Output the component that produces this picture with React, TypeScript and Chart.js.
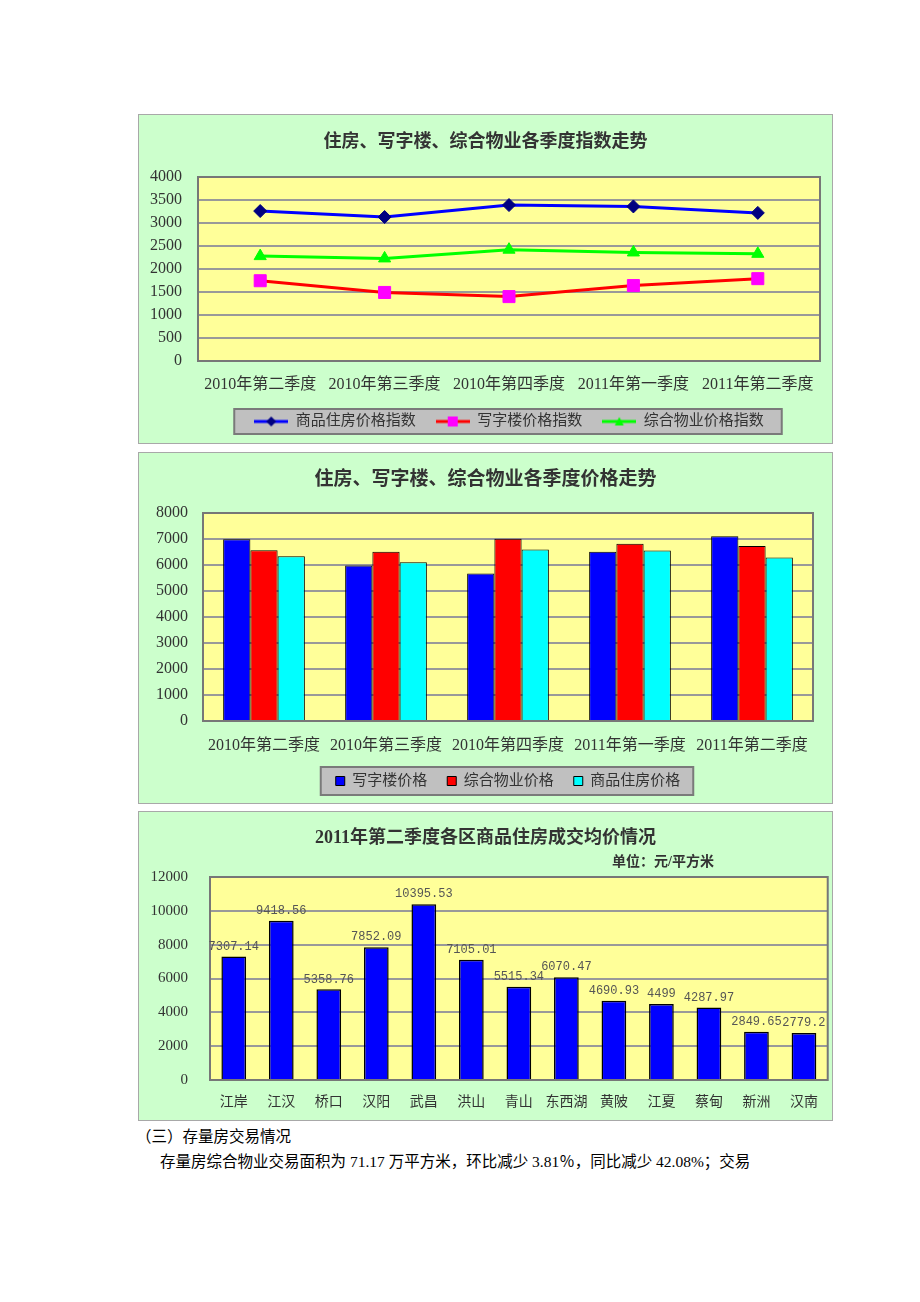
import React, { useEffect, useRef } from 'react';
import { Chart, registerables } from 'chart.js';

Chart.register(...registerables);

const FONT = "'Liberation Serif', 'Noto Sans CJK SC', serif";
const TEXT = '#333333';

// ---- Chart 1: index trend ----
const quarterLabels = ['2010年第二季度', '2010年第三季度', '2010年第四季度', '2011年第一季度', '2011年第二季度'];
const housingIndex = [3260, 3130, 3390, 3360, 3220];
const officeIndex = [1745, 1490, 1400, 1640, 1790];
const mixedIndex = [2280, 2230, 2420, 2360, 2330];
const indexTicks = [0, 500, 1000, 1500, 2000, 2500, 3000, 3500, 4000];

// ---- Chart 2: price trend ----
const officePrice = [6990, 5980, 5670, 6510, 7110];
const mixedPrice = [6570, 6510, 7010, 6820, 6730];
const housingPrice = [6340, 6110, 6600, 6560, 6290];
const priceTicks = [0, 1000, 2000, 3000, 4000, 5000, 6000, 7000, 8000];

// ---- Chart 3: district average prices ----
const districts = ['江岸', '江汉', '桥口', '汉阳', '武昌', '洪山', '青山', '东西湖', '黄陂', '江夏', '蔡甸', '新洲', '汉南'];
const districtPrices = [7307.14, 9418.56, 5358.76, 7852.09, 10395.53, 7105.01, 5515.34, 6070.47, 4690.93, 4499, 4287.97, 2849.65, 2779.2];
const districtTicks = [0, 2000, 4000, 6000, 8000, 10000, 12000];

const fixedTicks = (values: number[]) => (scale: any) => {
  scale.ticks = values.map((v) => ({ value: v }));
};
const plainNumber = (v: any) => String(v);

const plotFrame = {
  id: 'plotFrame',
  beforeDraw(chart: any, _args: any, opts: any) {
    const { ctx, chartArea: a } = chart;
    ctx.save();
    ctx.fillStyle = '#FFFF99';
    ctx.fillRect(a.left, a.top, a.right - a.left, a.bottom - a.top);
    const lg = chart.legend;
    if (opts && opts.legendBox && lg && lg.options.display && lg.legendHitBoxes && lg.legendHitBoxes.length) {
      const hb = lg.legendHitBoxes;
      const l = Math.min(...hb.map((h: any) => h.left)) - opts.legendBox.padL;
      const r = Math.max(...hb.map((h: any) => h.left + h.width)) + opts.legendBox.padR;
      const cy = hb[0].top + hb[0].height / 2;
      const h = opts.legendBox.height;
      ctx.fillStyle = '#C0C0C0';
      ctx.fillRect(l, cy - h / 2, r - l, h);
      ctx.strokeStyle = '#7a7a7a';
      ctx.lineWidth = 2;
      ctx.strokeRect(l, cy - h / 2, r - l, h);
    }
    ctx.restore();
  },
  beforeDatasetsDraw(chart: any) {
    const { ctx, chartArea: a } = chart;
    ctx.save();
    ctx.strokeStyle = '#777777';
    ctx.lineWidth = 2;
    ctx.strokeRect(a.left, a.top, a.right - a.left, a.bottom - a.top);
    ctx.restore();
  },
};

const valueLabels = {
  id: 'valueLabels',
  afterDatasetsDraw(chart: any) {
    const { ctx } = chart;
    const meta = chart.getDatasetMeta(0);
    const data = chart.data.datasets[0].data;
    ctx.save();
    ctx.font = "12px 'Liberation Mono', 'DejaVu Sans Mono', monospace";
    ctx.fillStyle = '#555555';
    ctx.textAlign = 'center';
    ctx.textBaseline = 'middle';
    meta.data.forEach((bar: any, i: number) => {
      ctx.fillText(String(data[i]), bar.x, bar.y - 10);
    });
    ctx.restore();
  },
};

const unitNote = {
  id: 'unitNote',
  afterDraw(chart: any, _args: any, opts: any) {
    const { ctx } = chart;
    ctx.save();
    ctx.font = `bold 14px ${FONT}`;
    ctx.fillStyle = TEXT;
    ctx.textAlign = 'center';
    ctx.textBaseline = 'middle';
    ctx.fillText(opts.text, opts.x, opts.y);
    ctx.restore();
  },
};

function makeIcon(kind: string, line: string, fill: string) {
  const c = document.createElement('canvas');
  c.width = 34;
  c.height = 14;
  const g = c.getContext('2d') as CanvasRenderingContext2D;
  g.strokeStyle = line;
  g.lineWidth = 3;
  g.beginPath();
  g.moveTo(0, 7);
  g.lineTo(34, 7);
  g.stroke();
  g.fillStyle = fill;
  g.beginPath();
  if (kind === 'diamond') {
    g.moveTo(17, 2);
    g.lineTo(22, 7);
    g.lineTo(17, 12);
    g.lineTo(12, 7);
  } else if (kind === 'square') {
    g.rect(12, 2, 10, 10);
  } else {
    g.moveTo(17, 2.5);
    g.lineTo(21.5, 11);
    g.lineTo(12.5, 11);
  }
  g.closePath();
  g.fill();
  return c;
}

const tickFont = (size: number) => ({ family: FONT, size });

function rightPad(width: number) {
  return {
    type: 'linear',
    axis: 'y',
    position: 'right',
    display: true,
    grid: { display: false, drawTicks: false },
    border: { display: false },
    ticks: { display: false },
    afterFit: (s: any) => {
      s.width = width;
    },
  };
}

function IndexChart() {
  const ref = useRef<HTMLCanvasElement>(null);
  useEffect(() => {
    const icons = [
      makeIcon('diamond', '#0000FF', '#000080'),
      makeIcon('square', '#FF0000', '#FF00FF'),
      makeIcon('triangle', '#00FF00', '#00FF00'),
    ];
    const chart = new Chart(ref.current as HTMLCanvasElement, {
      type: 'line',
      data: {
        labels: quarterLabels,
        datasets: [
          {
            label: '商品住房价格指数',
            data: housingIndex,
            borderColor: '#0000FF',
            borderWidth: 3,
            tension: 0,
            pointStyle: 'rectRot',
            pointRadius: 6.5,
            pointBackgroundColor: '#000080',
            pointBorderColor: '#000080',
            pointBorderWidth: 1,
          },
          {
            label: '写字楼价格指数',
            data: officeIndex,
            borderColor: '#FF0000',
            borderWidth: 3,
            tension: 0,
            pointStyle: 'rect',
            pointRadius: 8.5,
            pointBackgroundColor: '#FF00FF',
            pointBorderColor: '#FF00FF',
            pointBorderWidth: 1,
          },
          {
            label: '综合物业价格指数',
            data: mixedIndex,
            borderColor: '#00FF00',
            borderWidth: 3,
            tension: 0,
            pointStyle: 'triangle',
            pointRadius: 7,
            pointBackgroundColor: '#00FF00',
            pointBorderColor: '#00FF00',
            pointBorderWidth: 1,
          },
        ],
      },
      options: {
        responsive: false,
        animation: false,
        layout: { padding: { left: 0, right: 0, top: 0, bottom: 4 } },
        scales: {
          x: {
            offset: true,
            grid: { display: false, drawTicks: false },
            border: { display: false },
            ticks: { color: TEXT, font: tickFont(16), padding: 14, maxRotation: 0, minRotation: 0, autoSkip: false },
            afterFit: (s: any) => {
              s.height = 33;
            },
          },
          y: {
            min: indexTicks[0],
            max: indexTicks[indexTicks.length - 1],
            afterBuildTicks: fixedTicks(indexTicks),
            grid: { color: '#999999', lineWidth: 2, drawTicks: false },
            border: { display: false },
            ticks: { color: TEXT, font: tickFont(16), padding: 16, callback: plainNumber },
            afterFit: (s: any) => {
              s.width = 59;
            },
          },
          yPad: rightPad(12) as any,
        },
        plugins: {
          title: {
            display: true,
            text: '住房、写字楼、综合物业各季度指数走势',
            color: TEXT,
            font: { family: FONT, size: 18, weight: 'bold', lineHeight: 1.2 },
            padding: { top: 17, bottom: 23.4 },
          },
          legend: {
            position: 'bottom',
            fullSize: false,
            labels: {
              usePointStyle: true,
              pointStyleWidth: 34,
              padding: 20,
              color: TEXT,
              font: { family: FONT, size: 15 },
              generateLabels: (c: any) =>
                c.data.datasets.map((ds: any, i: number) => ({
                  text: ds.label,
                  datasetIndex: i,
                  pointStyle: icons[i],
                  fontColor: TEXT,
                  hidden: false,
                  lineWidth: 0,
                  strokeStyle: 'rgba(0,0,0,0)',
                  fillStyle: 'rgba(0,0,0,0)',
                })),
            },
          },
          tooltip: { enabled: false },
          plotFrame: { legendBox: { padL: 20, padR: 18, height: 25 } },
        } as any,
      },
      plugins: [plotFrame],
    });
    return () => chart.destroy();
  }, []);
  return <canvas ref={ref} width={693} height={328} style={{ display: 'block' }} />;
}

function PriceChart() {
  const ref = useRef<HTMLCanvasElement>(null);
  useEffect(() => {
    const barBase = { borderColor: '#000000', borderWidth: 1, barPercentage: 1, categoryPercentage: 0.67 };
    const chart = new Chart(ref.current as HTMLCanvasElement, {
      type: 'bar',
      data: {
        labels: quarterLabels,
        datasets: [
          { label: '写字楼价格', data: officePrice, backgroundColor: '#0000FF', ...barBase },
          { label: '综合物业价格', data: mixedPrice, backgroundColor: '#FF0000', ...barBase },
          { label: '商品住房价格', data: housingPrice, backgroundColor: '#00FFFF', ...barBase },
        ],
      },
      options: {
        responsive: false,
        animation: false,
        layout: { padding: { left: 0, right: 0, top: 0, bottom: 4.5 } },
        scales: {
          x: {
            grid: { display: false, drawTicks: false },
            border: { display: false },
            ticks: { color: TEXT, font: tickFont(16), padding: 15, maxRotation: 0, minRotation: 0, autoSkip: false },
            afterFit: (s: any) => {
              s.height = 32.5;
            },
          },
          y: {
            min: priceTicks[0],
            max: priceTicks[priceTicks.length - 1],
            afterBuildTicks: fixedTicks(priceTicks),
            grid: { color: '#999999', lineWidth: 2, drawTicks: false },
            border: { display: false },
            ticks: { color: TEXT, font: tickFont(16), padding: 15, callback: plainNumber },
            afterFit: (s: any) => {
              s.width = 64;
            },
          },
          yPad: rightPad(19) as any,
        },
        plugins: {
          title: {
            display: true,
            text: '住房、写字楼、综合物业各季度价格走势',
            color: TEXT,
            font: { family: FONT, size: 19, weight: 'bold', lineHeight: 1.2 },
            padding: { top: 15.6, bottom: 21.6 },
          },
          legend: {
            position: 'bottom',
            fullSize: false,
            labels: {
              boxWidth: 9,
              boxHeight: 9,
              padding: 20,
              color: TEXT,
              font: { family: FONT, size: 15 },
            },
          },
          tooltip: { enabled: false },
          plotFrame: { legendBox: { padL: 15, padR: 13, height: 28 } },
        } as any,
      },
      plugins: [plotFrame],
    });
    return () => chart.destroy();
  }, []);
  return <canvas ref={ref} width={693} height={350} style={{ display: 'block' }} />;
}

function DistrictChart() {
  const ref = useRef<HTMLCanvasElement>(null);
  useEffect(() => {
    const chart = new Chart(ref.current as HTMLCanvasElement, {
      type: 'bar',
      data: {
        labels: districts,
        datasets: [
          {
            label: '成交均价',
            data: districtPrices,
            backgroundColor: '#0000FF',
            borderColor: '#000000',
            borderWidth: 1.5,
            barPercentage: 0.52,
            categoryPercentage: 1,
          },
        ],
      },
      options: {
        responsive: false,
        animation: false,
        layout: { padding: { left: 0, right: 0, top: 0, bottom: 0 } },
        scales: {
          x: {
            grid: { display: false, drawTicks: false },
            border: { display: false },
            ticks: { color: TEXT, font: tickFont(14), padding: 14, maxRotation: 0, minRotation: 0, autoSkip: false },
            afterFit: (s: any) => {
              s.height = 40;
            },
          },
          y: {
            min: districtTicks[0],
            max: districtTicks[districtTicks.length - 1],
            afterBuildTicks: fixedTicks(districtTicks),
            grid: { color: '#999999', lineWidth: 2, drawTicks: false },
            border: { display: false },
            ticks: { color: TEXT, font: tickFont(15), padding: 22, callback: plainNumber },
            afterFit: (s: any) => {
              s.width = 71;
            },
          },
          yPad: rightPad(1) as any,
        },
        plugins: {
          title: {
            display: true,
            text: '2011年第二季度各区商品住房成交均价情况',
            color: TEXT,
            font: { family: FONT, size: 18, weight: 'bold', lineHeight: 1.2 },
            padding: { top: 15.2, bottom: 28.2 },
          },
          legend: { display: false },
          tooltip: { enabled: false },
          unitNote: { text: '单位：元/平方米', x: 524, y: 50 },
        } as any,
      },
      plugins: [plotFrame, valueLabels, unitNote],
    });
    return () => chart.destroy();
  }, []);
  return <canvas ref={ref} width={693} height={308} style={{ display: 'block' }} />;
}

const panel = (top: number, height: number): React.CSSProperties => ({
  position: 'absolute',
  left: 138,
  top,
  width: 693,
  height,
  border: '1px solid #a8a8a8',
  background: '#CCFFCC',
});

export default function App() {
  return (
    <div style={{ position: 'absolute', left: 0, top: 0, width: 920, height: 1302, background: '#ffffff' }}>
      <div style={panel(114, 328)}>
        <IndexChart />
      </div>
      <div style={panel(452, 350)}>
        <PriceChart />
      </div>
      <div style={panel(811, 308)}>
        <DistrictChart />
      </div>
      <div
        style={{
          position: 'absolute',
          left: 136,
          top: 1127,
          fontFamily: FONT,
          fontSize: 15.5,
          lineHeight: '20px',
          color: '#000',
          whiteSpace: 'nowrap',
        }}
      >
        （三）存量房交易情况
      </div>
      <div
        style={{
          position: 'absolute',
          left: 160,
          top: 1152,
          fontFamily: FONT,
          fontSize: 15.5,
          lineHeight: '20px',
          color: '#000',
          whiteSpace: 'nowrap',
        }}
      >
        存量房综合物业交易面积为 71.17 万平方米，环比减少 3.81％，同比减少 42.08%；交易
      </div>
    </div>
  );
}
